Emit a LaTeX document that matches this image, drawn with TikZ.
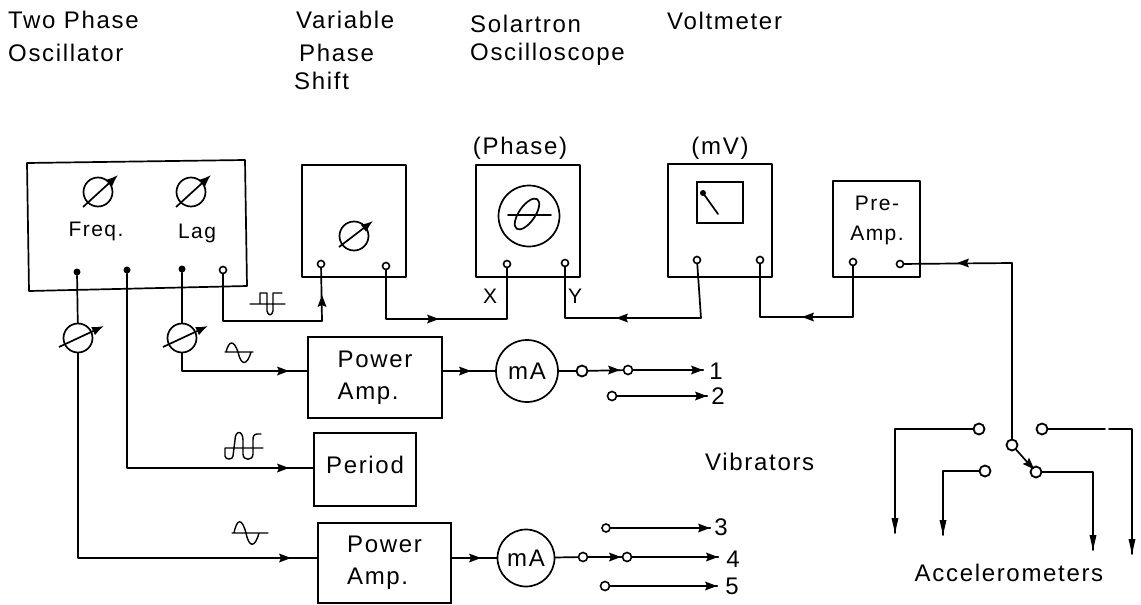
\documentclass[tikz,border=0pt]{standalone}
\usepackage{fontspec}
\setmainfont[LetterSpace=7]{Liberation Sans}
\usetikzlibrary{calc,arrows.meta}
\tikzset{
  line/.style={line width=1.7pt,line cap=round,line join=round},
  wave/.style={line width=1.4pt,line cap=round,line join=round},
  lab/.style={inner sep=0pt,font=\fontsize{24}{32}\selectfont,anchor=west},
  clab/.style={inner sep=0pt,font=\fontsize{24}{32}\selectfont,align=center},
  slab/.style={inner sep=0pt,font=\fontsize{21}{30}\selectfont,align=center},
  blockb/.style={draw,line width=1.7pt,inner sep=0pt,font=\fontsize{24}{32}\selectfont,align=left},
  term/.style={circle,draw,line width=1.6pt,fill=white,inner sep=0pt,minimum size=7pt},
  dotterm/.style={circle,fill=black,inner sep=0pt,minimum size=7pt},
  bigterm/.style={circle,draw,line width=1.8pt,fill=white,inner sep=0pt,minimum size=11pt},
  dialc/.style={circle,draw,line width=1.7pt,inner sep=0pt,minimum size=29pt},
  meter/.style={circle,draw,line width=1.7pt,inner sep=0pt,minimum size=62pt,font=\fontsize{24}{28}\selectfont},
  dialarr/.style={line width=1.7pt,-{Latex[length=12pt,width=9pt]}},
}
\newcommand{\head}[3]{\fill[shift={(#1,#2)},rotate=#3] (6,0) -- (-6,4.5) -- (-4,0) -- (-6,-4.5) -- cycle;}
\newcommand{\vhead}[2]{\fill[shift={(#1,#2)}] (0,0) -- (-3.5,-15) -- (3.5,-15) -- cycle;}
\newcommand{\dialarrow}[6]{\draw[dialarr,shift={(#1,#2)}] (#3,#4) -- (#5,#6);}
\begin{document}
\begin{tikzpicture}[x=1pt,y=-1pt]
\useasboundingbox (0,0) rectangle (1141,605);
% top labels
\node[lab] (t1) at (8,20) {Two Phase};
\node[lab] (t2) at (8,53) {Oscillator};
\node[lab] (t3) at (296,20) {Variable};
\node[lab] (t4) at (299,53) {Phase};
\node[lab] (t5) at (294,81) {Shift};
\node[lab] (t6) at (470,24) {Solartron};
\node[lab] (t7) at (470,54) {Oscilloscope};
\node[lab] (t8) at (667,21) {Voltmeter};
\node[clab] (t9) at (520,148) {(Phase)};
\node[clab] (t10) at (720,148) {(mV)};
\node[lab] (t11) at (705,462) {Vibrators};
\node[clab] (t12) at (1009,573) {Accelerometers};
% boxes
\draw[line] (27,163) -- (245,160) -- (247,286) -- (29,291) -- cycle;
\draw[line] (302,165) rectangle (406,277);
\draw[line] (476,165) rectangle (580,277);
\draw[line] (668,164) rectangle (772,277);
\draw[line] (833,181) rectangle (920,277);
\node[slab] (preamp) at (877,220) {Pre-\\Amp.};
\node[slab] (freq) at (96,231) {Freq.};
\node[slab] (lag) at (197,233) {Lag};
\node[blockb,minimum width=134pt,minimum height=81pt] (pa1) at (375,377.5) {Power\\Amp.};
\node[blockb,minimum width=102pt,minimum height=73pt] (per) at (365,469.5) {};
\node[clab] (perl) at (365,465) {Period};
\node[blockb,minimum width=133pt,minimum height=80pt] (pa2) at (384.5,563) {Power\\Amp.};
\node[meter] (ma1) at (527,371) {mA};
\node[meter,minimum size=57pt] (ma2) at (526,558) {mA};
% dials
\node[dialc] (d1) at (98,192) {}; \dialarrow{98}{192}{-15}{15}{20}{-17}
\node[dialc] (d2) at (191,192) {}; \dialarrow{191}{192}{-15}{15}{20}{-17}
\node[dialc] (d3) at (354,236) {}; \dialarrow{354}{236}{-15}{11}{19}{-15}
\node[dialc] (d4) at (78,338) {}; \dialarrow{78}{338}{-19}{9}{26}{-12}
\node[dialc] (d5) at (182,338) {}; \dialarrow{182}{338}{-19}{9}{26}{-12}
% scope face
\node[circle,draw,line width=1.7pt,inner sep=0pt,minimum size=61pt] (scope) at (529,216) {};
\draw[line] (508,215) -- (551,215);
\draw[line] (527,214) ellipse [x radius=18,y radius=8,rotate=55];
% voltmeter face
\node[draw,line width=1.7pt,minimum width=46pt,minimum height=41pt,inner sep=0pt] (face) at (720,202.5) {};
\draw[line] (703,193) -- (718,214);
\fill (703,193) circle (3);
% terminals
\node[dotterm] (a1) at (77,272) {};
\node[dotterm] (a2) at (127,270) {};
\node[dotterm] (a3) at (182,269) {};
\node[term] (a4) at (223,270) {};
\node[term] (v1) at (321,264) {};
\node[term] (v2) at (386,266) {};
\node[term] (x) at (507,264) {};
\node[term] (y) at (565,263) {};
\node[term] (m1) at (697,260) {};
\node[term] (m2) at (760,260) {};
\node[term] (p1) at (853,262) {};
\node[term] (p2) at (900,264) {};
\node[slab] (xl) at (490,296) {X};
\node[slab] (yl) at (575,296) {Y};
% named corners
\coordinate (k1) at (322,321);
\coordinate (k2) at (507,319);
\coordinate (k3) at (701,318);
\coordinate (k4) at (853,317);
\coordinate (k5) at (1012,263);
\coordinate (pin1) at (308,371);
\coordinate (pout1) at (442,371);
\coordinate (pin2) at (318,558);
\coordinate (pout2) at (451,558);
\coordinate (pper) at (314,468);
% connectors top
\draw[line] (a4) |- (k1) -- (v1);
\head{322}{301}{90}
\draw[line] (v2) |- (k2) -- (x);
\head{433}{319}{0}
\draw[line] (y) |- (k3) -- (m1);
\head{622}{318}{180}
\draw[line] (m2) |- (k4) -- (p1);
\head{808}{317}{180}
% left connectors
\draw[line] (a1) -- (d4);
\draw[line] (a3) -- (d5);
\draw[line] (d5) |- (pin1);
\head{283}{371}{0}
\draw[line] (a2) |- (pper);
\head{283}{468}{0}
\draw[line] (d4) |- (pin2);
\head{285}{558}{0}
\draw[line] (pout1) -- (ma1);
\head{465}{371}{0}
\draw[line] (pout2) -- (ma2);
\head{475}{558}{0}
% vibrator outputs
\node[bigterm] (s1) at (582,371) {};
\node[term,minimum size=9pt] (o1) at (628,370) {};
\node[term,minimum size=9pt] (o2) at (612,396) {};
\node[clab] (n1) at (716,371) {1};
\node[clab] (n2) at (718,396) {2};
\draw[line] (ma1) -- (s1);
\draw[line] (s1) -- (o1);
\head{614}{370}{0}
\draw[line,shorten >=6pt] (o1) -- (n1.west |- o1);
\head{697}{370}{0}
\draw[line,shorten >=4pt] (o2) -- (n2.west |- o2);
\head{701}{396}{0}
\node[term,minimum size=9pt] (s2) at (583,557) {};
\node[term,minimum size=9pt] (o4) at (627,557) {};
\node[term,minimum size=8pt] (o3) at (606,528) {};
\node[term,minimum size=9pt] (o5) at (605,586) {};
\node[clab] (n3) at (721,527) {3};
\node[clab] (n4) at (733,559) {4};
\node[clab] (n5) at (732,586) {5};
\draw[line] (ma2) -- (s2);
\draw[line] (s2) -- (o4);
\head{615}{557}{0}
\draw[line,shorten >=8pt] (o4) -- (n4.west |- o4);
\head{712}{557}{0}
\draw[line,shorten >=4pt] (o3) -- (n3.west |- o3);
\head{704}{528}{0}
\draw[line,shorten >=8pt] (o5) -- (n5.west |- o5);
\head{711}{586}{0}
% pre-amp to switch
\node[bigterm] (pole) at (1012,445) {};
\node[bigterm] (c1) at (979,429) {};
\node[bigterm] (c2) at (985,471) {};
\node[bigterm] (c3) at (1036,472) {};
\node[bigterm] (c4) at (1042,429) {};
\draw[line] (p2) -- (k5) -- (pole);
\head{963}{263}{180}
\draw[line] (pole) -- (c3);
\head{1030}{465}{-45}
\coordinate (e1) at (895,533);
\coordinate (e2) at (943,535);
\coordinate (e3) at (1093,550);
\coordinate (e4) at (1132,554);
\coordinate (g1) at (1105,429);
\coordinate (g2) at (1109,429);
\draw[line] (c1) -| (e1);
\draw[line] (c2) -| (e2);
\draw[line] (c3) -| (e3);
\draw[line] (c4) -- (g1);
\draw[line] (g2) -| (e4);
\vhead{895}{533}
\vhead{943}{535}
\vhead{1093}{550}
\vhead{1132}{554}
% waveforms
\draw[wave] (250,304) -- (285,304) (260,304) -- (260,293) -- (267,293) -- (267,311) .. controls (268,316) and (272,316) .. (273,311) -- (273,293) -- (282,293);
\draw[wave] (225,352) -- (253,352) (226,352) .. controls (229,340) and (234,340) .. (238,352) .. controls (241,366) and (247,366) .. (251,352);
\draw[wave] (225,448) -- (263,448) (225,448) -- (225,456) .. controls (225,460) and (233,460) .. (233,456) -- (235,440) .. controls (235,430) and (243,430) .. (243,440) -- (243,454) .. controls (243,461) and (253,461) .. (253,454) -- (253,440) .. controls (253,433) and (256,434) .. (261,434);
\draw[wave] (232,533) -- (268,533) (234,533) .. controls (237,518) and (242,518) .. (246,533) .. controls (249,548) and (255,548) .. (259,533);
\end{tikzpicture}
\end{document}
